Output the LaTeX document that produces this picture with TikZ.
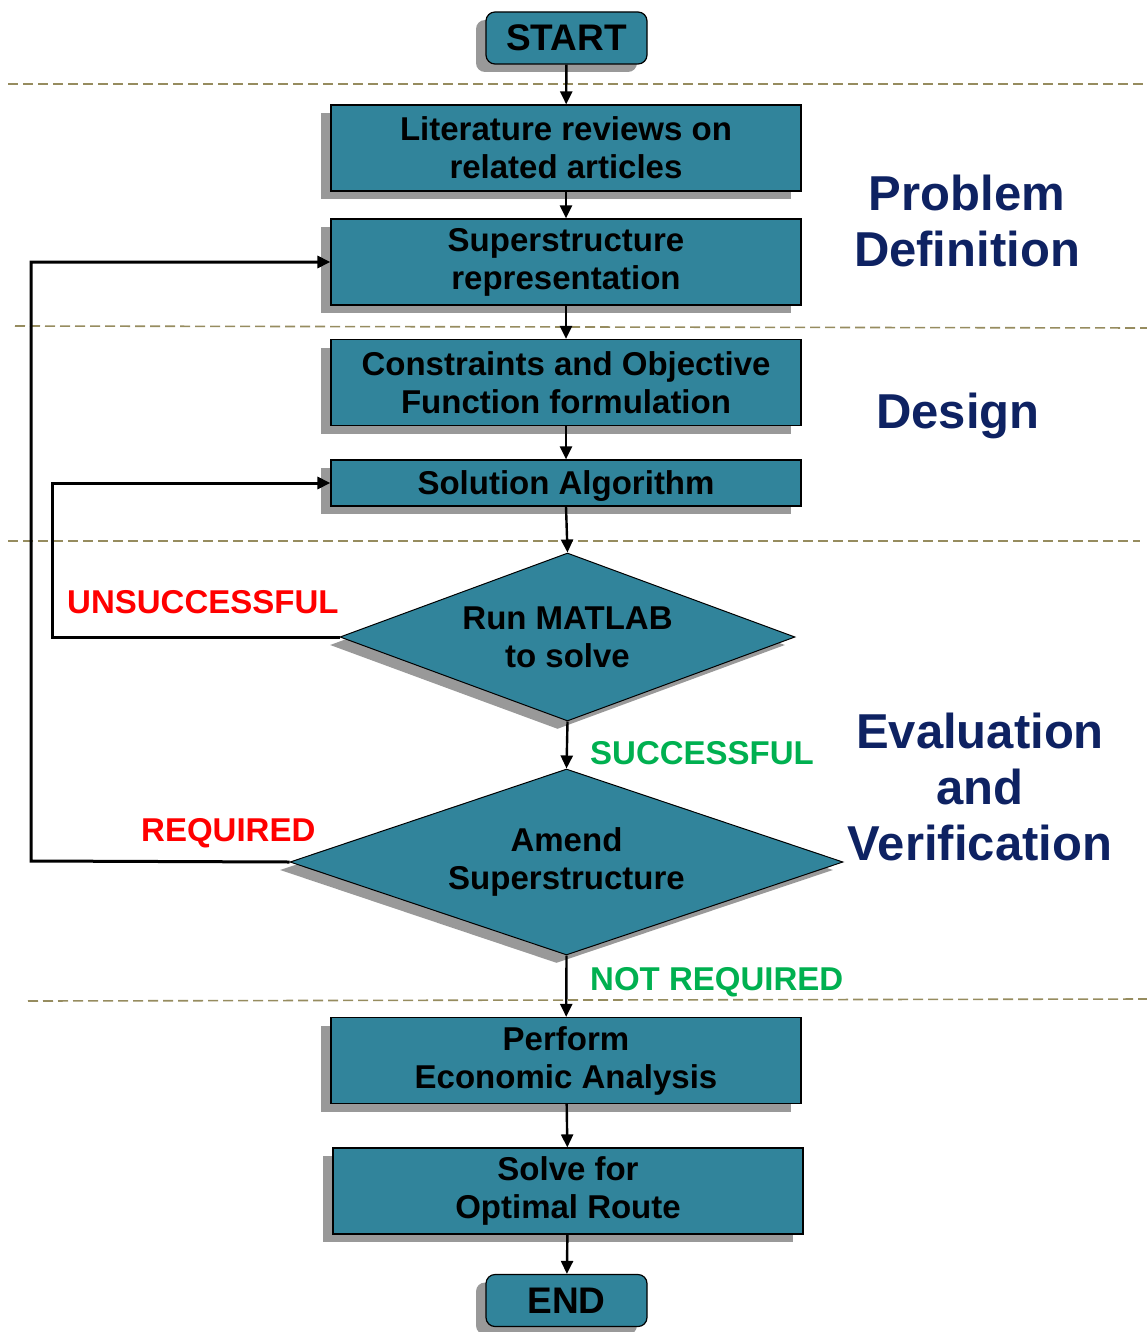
\documentclass[tikz,border=0pt]{standalone}
\usepackage{fontspec}
\setmainfont{Liberation Sans}
\usetikzlibrary{arrows.meta,shapes.geometric,shadows}
\definecolor{boxteal}{RGB}{49,132,155}
\definecolor{shade}{RGB}{153,153,153}
\definecolor{navy}{RGB}{14,34,98}
\definecolor{okgreen}{RGB}{0,176,80}
\definecolor{phaserule}{RGB}{150,140,95}
\newcommand\flowfont{\fontsize{33}{38}\selectfont\bfseries}
\newcommand\termfont{\fontsize{37}{42}\selectfont\bfseries}
\newcommand\phasefont{\fontsize{49}{56}\selectfont\bfseries}
\begin{document}
\begin{tikzpicture}[x=1pt,y=-1pt,
  shadowed/.style={general shadow={shadow xshift=-10pt,shadow yshift=-8pt,fill=shade,draw=none}},
  stepbox/.style={draw=black,line width=1.2pt,fill=boxteal,shadowed,
    minimum width=470pt,minimum height=86pt,inner sep=0pt,align=center,font=\flowfont},
  termbox/.style={stepbox,rounded corners=9pt,minimum width=161pt,minimum height=52pt,font=\termfont},
  decision/.style={draw=black,line width=1pt,fill=boxteal,shadowed,diamond,inner sep=0pt,
    align=center,font=\flowfont},
  flow/.style={line width=2.4pt,-{Triangle[length=13pt,width=12pt]}},
  loopback/.style={line width=3pt,-{Triangle[length=13pt,width=12pt]}},
  phaseline/.style={draw=phaserule,line width=1.6pt,dash pattern=on 10pt off 5pt},
  phase/.style={text=navy,font=\phasefont,align=center,inner sep=0pt},
  verdict/.style={font=\flowfont,inner sep=0pt,anchor=west}]
\useasboundingbox (0,0) rectangle (1147,1332);

% phase separators
\draw[phaseline] (8,84) -- (1147,84);
\draw[phaseline] (15,326) -- (1147,328);
\draw[phaseline] (8,541) -- (1140,541);
\draw[phaseline] (28,1001) -- (1147,999);

% flow steps
\node[termbox] (start) at (566.5,38) {START};
\node[stepbox] (lit) at (566,148) {Literature reviews on\\related articles};
\node[stepbox] (super) at (566,262) {Superstructure\\representation};
\node[stepbox] (cons) at (566,382.5) {Constraints and Objective\\Function formulation};
\node[stepbox,minimum height=46pt,text height=24pt,text depth=1pt] (algo) at (566,483) {Solution Algorithm};
\node[decision,aspect=2.71,minimum width=455pt,minimum height=168pt] (run) at (567.5,637) {Run MATLAB\\to solve};
\node[decision,aspect=2.97,minimum width=553pt,minimum height=186pt] (amend) at (566.5,862) {Amend\\Superstructure};
\node[stepbox] (econ) at (566,1060.5) {Perform\\Economic Analysis};
\node[stepbox] (route) at (568,1191) {Solve for\\Optimal Route};
\node[termbox] (finish) at (566.5,1300.5) {END};

% main flow
\draw[flow] (start) -- (lit);
\draw[flow] (lit) -- (super);
\draw[flow] (super) -- (cons);
\draw[flow] (cons) -- (algo);
\draw[flow] (algo.south) -- (run.north);
\draw[flow] (run.south) -- (amend.north);
\draw[flow] (amend.south) -- (econ);
\draw[flow] (econ) -- (route);
\draw[flow] (route) -- (finish);

% feedback loops
\coordinate (retry) at (52,637);
\coordinate (revise) at (31,861);
\draw[loopback] (run.west) -- (retry) |- (algo.west);
\draw[loopback] (amend.west) -- (revise) |- (super.west);

% branch labels
\node[verdict,text=red] (fail) at (67,602) {UNSUCCESSFUL};
\node[verdict,text=okgreen] (pass) at (590,753) {SUCCESSFUL};
\node[verdict,text=red] (need) at (141,833) {REQUIRED};
\node[verdict,text=okgreen] (noneed) at (590,982) {NOT REQUIRED};

% phase titles
\node[phase] (p1) at (967,221) {Problem\\Definition};
\node[phase] (p2) at (958,416) {Design};
\node[phase] (p3) at (980,787) {Evaluation\\and\\Verification};
\end{tikzpicture}
\end{document}
